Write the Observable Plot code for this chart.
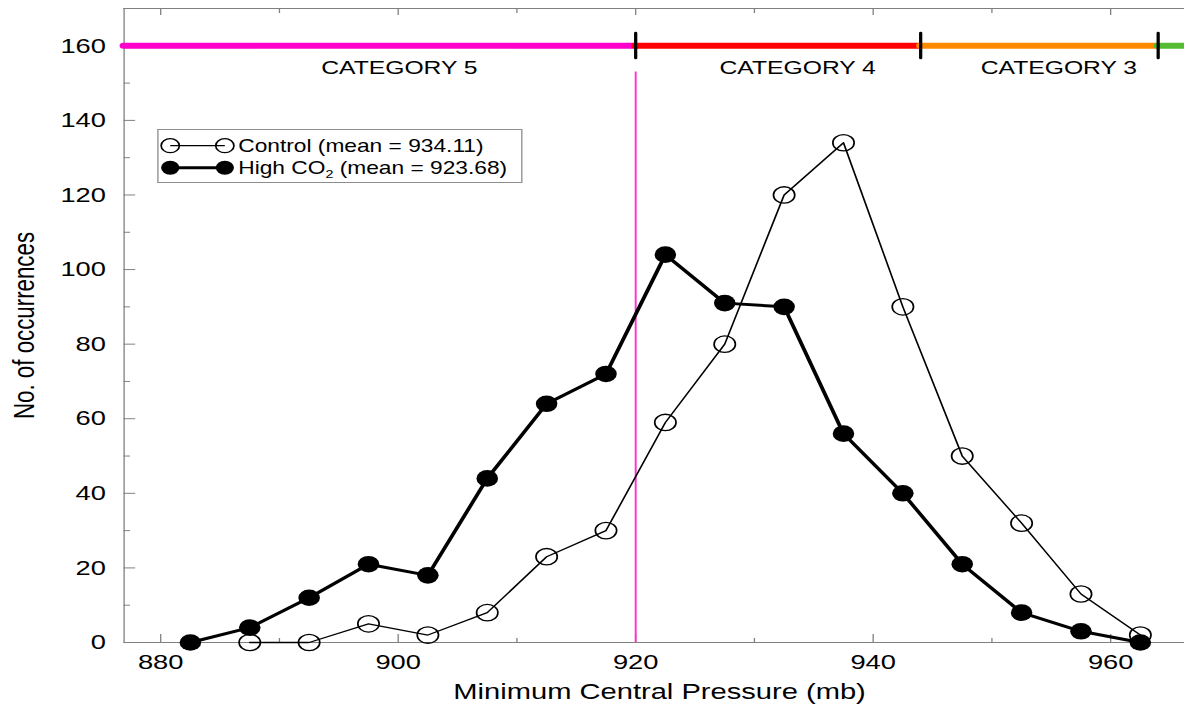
<!DOCTYPE html>
<html>
<head>
<meta charset="utf-8">
<script src="https://cdn.jsdelivr.net/npm/d3@7"></script>
<script src="https://cdn.jsdelivr.net/npm/@observablehq/plot@0.6"></script>
<style>
  html, body { margin: 0; padding: 0; background: #fff; overflow: hidden; }
  /* The figure is laid out on a narrower canvas and widened horizontally as a whole. */
  #wrap {
    position: relative; width: 911px; height: 706px;
    transform-origin: 0 0; transform: scaleX(1.29967);
    font-family: "Liberation Sans", Arial, Helvetica, sans-serif;
  }
  #legend { position: absolute; left: 120.8px; top: 129px; overflow: visible; }
</style>
</head>
<body>
<div id="wrap">
  <div id="chart"></div>
  <svg id="legend" width="281" height="54"></svg>
</div>
<script>
// Histogram bin centres, minimum central pressure (mb)
const pressure = [882.5, 887.5, 892.5, 897.5, 902.5, 907.5, 912.5, 917.5, 922.5,
                  927.5, 932.5, 937.5, 942.5, 947.5, 952.5, 957.5, 962.5];
// Number of occurrences per bin
const controlCounts = [null, 0, 0, 5, 2, 8, 23, 30, 59, 80, 120, 134, 90, 50, 32, 13, 2];
const highCO2Counts = [0, 4, 12, 21, 18, 44, 64, 72, 104, 91, 90, 56, 40, 21, 8, 3, 0];
const controlMean = 934.11;
const highCO2Mean = 923.68;

// Saffir–Simpson pressure thresholds (mb) and category bands
const categoryBreaks = [920, 944, 964];
const categoryNames = ["CATEGORY 5", "CATEGORY 4", "CATEGORY 3", ""];
const categoryColors = ["#ff00cc", "#ff0000", "#ff8a00", "#55bb33"];

// Axis ticks
const xMajorTicks = [880, 900, 920, 940, 960];
const xMinorTicks = [890, 910, 930, 950];
const yMajorTicks = [0, 20, 40, 60, 80, 100, 120, 140, 160];
const yMinorTicks = [10, 30, 50, 70, 90, 110, 130, 150, 170];

const xDomain = [876.92, 966.23];
const yDomain = [0, 170];
const categoryLevel = 160;

const W = 911, H = 706;
const mL = 95, mR = 0, mT = 8, mB = 64;
const frameW = W - mL - mR, frameH = H - mT - mB;
const axisGray = "#808080";

const control = pressure.map((p, i) => ({p, n: controlCounts[i]})).filter(d => d.n != null);
const highCO2 = pressure.map((p, i) => ({p, n: highCO2Counts[i]}));

const bands = categoryNames.map((name, i) => ({
  name,
  lo: i === 0 ? xDomain[0] : categoryBreaks[i - 1],
  hi: i === categoryNames.length - 1 ? xDomain[1] : categoryBreaks[i],
  color: categoryColors[i]
}));

const chart = Plot.plot({
  width: W, height: H,
  marginLeft: mL, marginRight: mR, marginTop: mT, marginBottom: mB,
  style: {fontFamily: "'Liberation Sans', Arial, Helvetica, sans-serif", fontSize: "21px", background: "#fff", color: "#000"},
  x: {domain: xDomain},
  y: {domain: yDomain},
  color: {type: "identity"},
  marks: [
    // frame lines (left, bottom, top)
    Plot.ruleX([xDomain[0]], {x: d => d, stroke: axisGray, strokeWidth: 1}),
    Plot.ruleY([yDomain[0], yDomain[1]], {y: d => d, stroke: axisGray, strokeWidth: 1}),

    // inward ticks
    Plot.tickX(xMajorTicks, {x: d => d, insetTop: frameH - 8, stroke: axisGray}),
    Plot.tickX(xMinorTicks, {x: d => d, insetTop: frameH - 4, stroke: axisGray}),
    Plot.tickX(xMajorTicks, {x: d => d, insetBottom: frameH - 7, stroke: axisGray}),
    Plot.tickX(xMinorTicks, {x: d => d, insetBottom: frameH - 5, stroke: axisGray}),
    Plot.tickY(yMajorTicks, {y: d => d, insetRight: frameW - 9, stroke: axisGray}),
    Plot.tickY(yMinorTicks, {y: d => d, insetRight: frameW - 5, stroke: axisGray}),

    Plot.axisX({ticks: xMajorTicks, tickSize: 0, tickPadding: 12, label: null, fontSize: 21}),
    Plot.axisY({ticks: yMajorTicks, tickSize: 0, tickPadding: 14, label: null, fontSize: 21}),

    // Category 5 / 4 threshold
    Plot.ruleX([categoryBreaks[0]], {x: d => d, y1: 0, y2: 153, stroke: "#ff33cc", strokeWidth: 1.5}),

    // Saffir–Simpson band at the top
    Plot.ruleY(bands, {y: () => categoryLevel, x1: "lo", x2: "hi", stroke: "color",
                       strokeWidth: 6, strokeLinecap: "round"}),
    Plot.ruleX(categoryBreaks, {x: d => d, y1: categoryLevel - 3.4, y2: categoryLevel + 3.3,
                                stroke: "#000", strokeWidth: 2.5, strokeLinecap: "round"}),
    Plot.text(bands.filter(d => d.name), {x: d => (d.lo + d.hi) / 2, y: () => 154, text: "name",
                                          dx: 15, fontSize: 19, lineAnchor: "middle", fill: "#000"}),

    // axis titles
    Plot.text(["Minimum Central Pressure (mb)"], {text: d => d, frameAnchor: "bottom", dy: 49.5, dx: 4,
                                                  textAnchor: "middle", lineAnchor: "middle", fontSize: 22.4}),
    Plot.text(["No. of occurrences"], {text: d => d, frameAnchor: "left", rotate: -90, dx: -76.5,
                                       textAnchor: "middle", lineAnchor: "middle", fontSize: 22.3}),

    // Control run
    Plot.line(control, {x: "p", y: "n", stroke: "#000", strokeWidth: 1.3}),
    Plot.dot(control, {x: "p", y: "n", r: 8.2, stroke: "#000", strokeWidth: 1.3, fill: "none"}),

    // High CO2 run
    Plot.line(highCO2, {x: "p", y: "n", stroke: "#000", strokeWidth: 3}),
    Plot.dot(highCO2, {x: "p", y: "n", r: 8.3, fill: "#000", stroke: "none"})
  ]
});
document.getElementById("chart").append(chart);

// Legend box
const lg = d3.select("#legend");
lg.append("rect").attr("x", 0.5).attr("y", 0.5).attr("width", 280).attr("height", 53)
  .attr("fill", "#fff").attr("stroke", "#8c8c8c").attr("stroke-width", 1);

const rows = [
  {y: 16.7, filled: false, width: 1.3},
  {y: 38.7, filled: true, width: 3}
];
rows.forEach(r => {
  lg.append("line").attr("x1", 10).attr("x2", 52).attr("y1", r.y).attr("y2", r.y)
    .attr("stroke", "#000").attr("stroke-width", r.width);
  [10, 52].forEach(cx => {
    lg.append("circle").attr("cx", cx).attr("cy", r.y).attr("r", 7)
      .attr("fill", r.filled ? "#000" : "none")
      .attr("stroke", r.filled ? "none" : "#000").attr("stroke-width", 1.3);
  });
});
const tx = 62.3;
lg.append("text").attr("x", tx).attr("y", rows[0].y + 6.2)
  .attr("font-size", 17.5).attr("font-family", "'Liberation Sans', Arial, sans-serif")
  .text(`Control (mean = ${controlMean.toFixed(2)})`);
const t2 = lg.append("text").attr("x", tx).attr("y", rows[1].y + 6.2)
  .attr("font-size", 17.5).attr("font-family", "'Liberation Sans', Arial, sans-serif");
t2.append("tspan").text("High CO");
t2.append("tspan").attr("font-size", 11).attr("dy", 4).text("2");
t2.append("tspan").attr("dy", -4).text(` (mean = ${highCO2Mean.toFixed(2)})`);
</script>
</body>
</html>
